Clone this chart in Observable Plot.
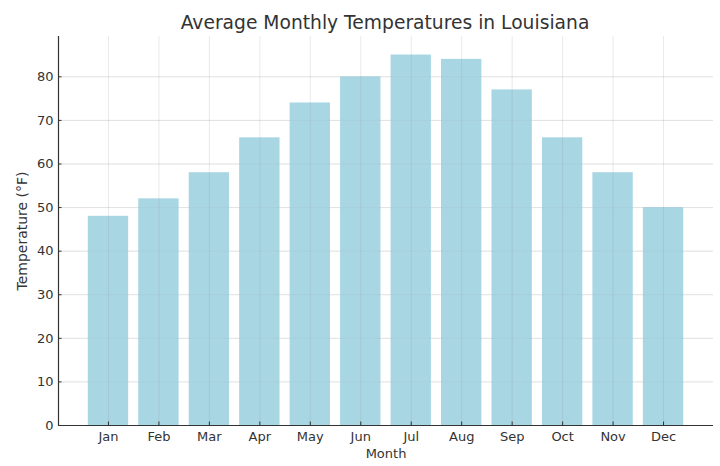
<!DOCTYPE html>
<html>
<head>
<meta charset="utf-8">
<script src="https://cdn.jsdelivr.net/npm/d3@7"></script>
<script src="https://cdn.jsdelivr.net/npm/@observablehq/plot@0.6"></script>
<style>
  html, body { margin: 0; padding: 0; background: #fff; }
  #title { font-family: "DejaVu Sans", sans-serif; font-size: 18.7px; color: #333; text-align: center;
           width: 720px; height: 34px; line-height: 24px; padding-top: 11px; box-sizing: border-box;
           padding-left: 50px; }
  svg { display: block; }
</style>
</head>
<body>
<div id="title">Average Monthly Temperatures in Louisiana</div>
<div id="chart"></div>
<script>
const months = ["Jan","Feb","Mar","Apr","May","Jun","Jul","Aug","Sep","Oct","Nov","Dec"];
const temps = [48, 52, 58, 66, 74, 80, 85, 84, 77, 66, 58, 50];
const yTicks = [0, 10, 20, 30, 40, 50, 60, 70, 80];

const data = months.map((m, i) => ({month: m, temp: temps[i]}));

const chart = Plot.plot({
  width: 720,
  height: 432,
  marginTop: 2,
  marginLeft: 58,
  marginRight: 7,
  marginBottom: 41,
  style: {fontFamily: "DejaVu Sans, sans-serif", fontSize: "13px", color: "#333", background: "#fff"},
  x: {domain: months, paddingInner: 0.2, paddingOuter: 0.59, round: false, label: null},
  y: {domain: [0, 89.25], label: null},
  marks: [
    Plot.gridY(yTicks, {stroke: "#b0b0b0", strokeOpacity: 0.35, strokeWidth: 0.8}),
    Plot.barY(data, {x: "month", y: "temp", fill: "#a9d6e3"}),
    Plot.gridX(months, {stroke: "#909090", strokeOpacity: 0.25, strokeWidth: 0.8}),
    Plot.gridY(yTicks, {stroke: "#909090", strokeOpacity: 0.12, strokeWidth: 0.8}),
    Plot.axisY(yTicks, {tickSize: -3.5, tickPadding: 8.5, fontSize: 13, label: null, stroke: "#333"}),
    Plot.axisX(months, {tickSize: -3.5, tickPadding: 10, fontSize: 13, label: null, stroke: "#333"}),
    Plot.frame({anchor: "left", stroke: "#333", strokeWidth: 1.2}),
    Plot.ruleY([0], {stroke: "#333", strokeWidth: 1.2}),
    Plot.text(["Month"], {frameAnchor: "bottom", dy: 32, fontSize: 13, fill: "#333"}),
    Plot.text(["Temperature (°F)"], {frameAnchor: "left", textAnchor: "middle", dx: -36, rotate: -90, fontSize: 14, fill: "#333"})
  ]
});
document.getElementById("chart").appendChild(chart);
</script>
</body>
</html>
